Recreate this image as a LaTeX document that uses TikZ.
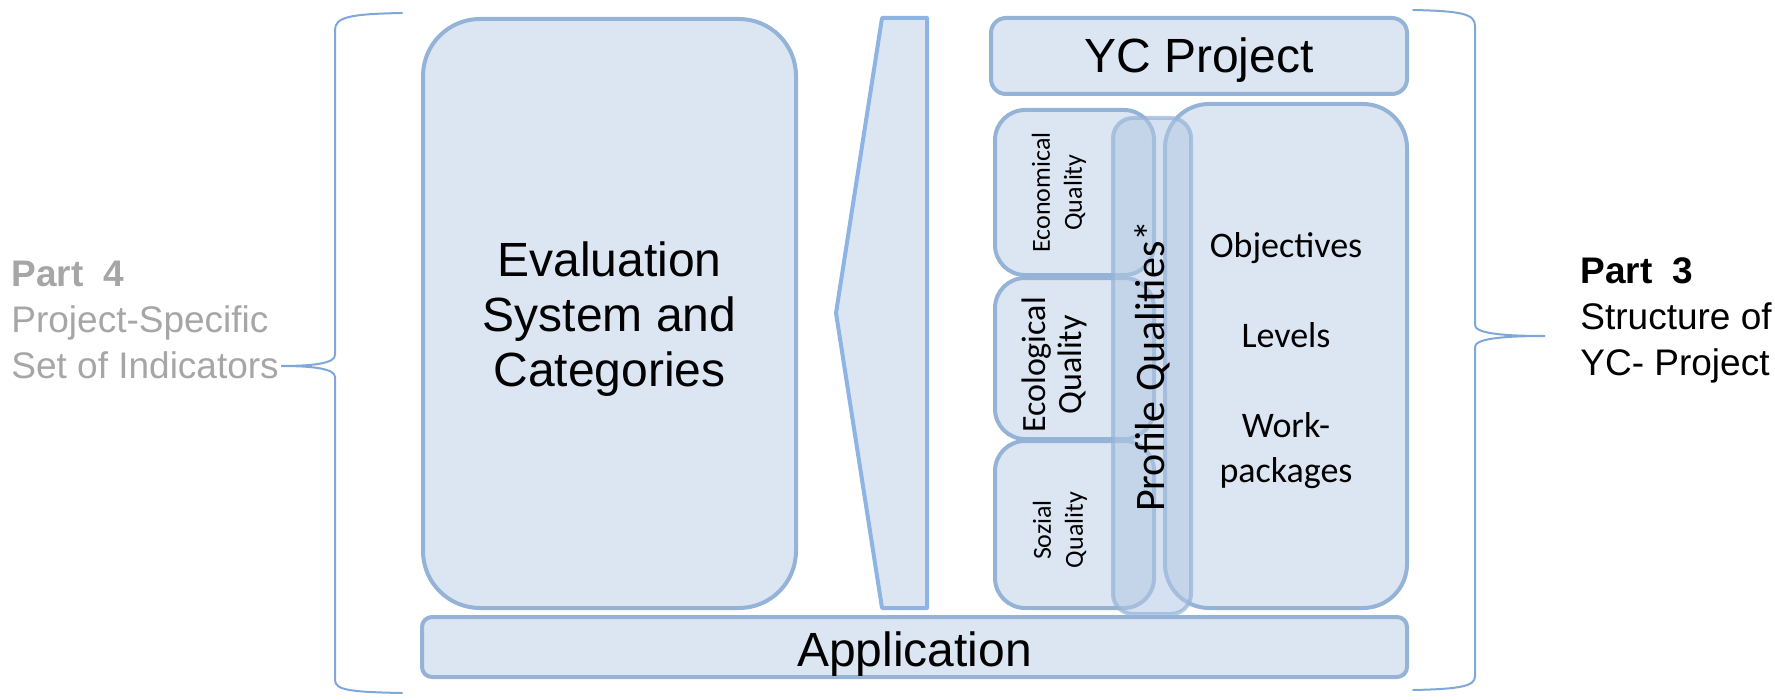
\documentclass[tikz,border=0pt]{standalone}
\usepackage{fontspec}
\setmainfont{Liberation Sans}
\newfontfamily\calibri{Carlito}
\usepackage{tikz}
\usetikzlibrary{positioning}
\definecolor{boxfill}{HTML}{DCE6F2}
\definecolor{boxline}{HTML}{95B3D7}
\definecolor{arrowline}{HTML}{8DB4E2}
\definecolor{braceline}{HTML}{7FA7D9}
\definecolor{profilefill}{HTML}{B3C8E3}
\definecolor{parttext}{HTML}{A6A6A6}

\begin{document}
\begin{tikzpicture}[x=0.5pt,y=-0.5pt,
  box/.style={draw=boxline, fill=boxfill, line width=2pt, inner sep=0pt, outer sep=0pt},
  quality/.style={box, minimum width=79.5pt, rounded corners=15pt},
  qlabel/.style={rotate=90, align=center, inner sep=0pt},
  bigtext/.style={font=\fontsize{24}{27.5}\selectfont, align=center, inner sep=0pt},
  brace/.style={draw=braceline, line width=1pt, line cap=round}]
\useasboundingbox (0,0) rectangle (1775,700);

% left column
\node (evalbox) at (609.5,313.5) [box, minimum width=186.5pt, minimum height=294.5pt, rounded corners=28.5pt] {};
\node (evaltxt) at ([yshift=-3pt]evalbox.center) [bigtext] {Evaluation\\System and\\Categories};
\draw[draw=arrowline, fill=boxfill, line width=2pt, line join=round] (882,18) -- (927,18) -- (927,608) -- (882,608) -- (836,313) -- cycle;

% right column
\node (ycproj) at (1199,56) [box, minimum width=208pt, minimum height=38pt, rounded corners=7.5pt] {};
\node (yctxt) at ([yshift=-2.25pt]ycproj.center) [bigtext] {YC Project};
\node (econ) at (1074.5,192.5) [quality, minimum height=82.5pt] {};
\node (ecol) [quality, minimum height=80.5pt, below=1.5pt of econ] {};
\node (sozial) [quality, minimum height=83.5pt, below=1pt of ecol] {};
\node (econlbl) at ([xshift=-7.75pt]econ.center) [qlabel, font=\calibri\fontsize{13}{16}\selectfont] {Economical\\Quality};
\node (ecollbl) at ([xshift=-10pt,yshift=-3.25pt]ecol.center) [qlabel, font=\calibri\fontsize{17}{18}\selectfont] {Ecological\\Quality};
\node (soziallbl) at ([xshift=-7.25pt,yshift=-2.75pt]sozial.center) [qlabel, font=\calibri\fontsize{13}{16}\selectfont] {Sozial\\Quality};
\node (goals) at (1286,356) [box, minimum width=121pt, minimum height=252pt, rounded corners=22pt] {};
\node (goalstxt) at ([yshift=-2.25pt]goals.center) [align=center, inner sep=0pt, font=\calibri\fontsize{18}{22.5}\selectfont] {Objectives\\[22.5pt]Levels\\[22.5pt]Work-\\packages};
\node (profile) at (1152,366) [box, rotate=90, minimum width=248pt, minimum height=39pt, rounded corners=10pt, fill=profilefill, fill opacity=0.55, draw opacity=0.7, text opacity=1, font=\calibri\fontsize{21}{25}\selectfont] {Profile Qualities*};

% bottom bar
\node (appl) at (914.5,647) [box, minimum width=492.5pt, minimum height=30pt, rounded corners=5pt] {};
\node (appltxt) at ([yshift=-3.5pt]appl.center) [bigtext] {Application};

% braces and part labels
\node (part4) at (11,320) [anchor=west, align=left, inner sep=0pt, text=parttext, font=\fontsize{18.5}{23}\selectfont] {\textbf{Part\ \ 4}\\Project-Specific\\Set of Indicators};
\node (part3) at (1580,320) [anchor=west, align=left, inner sep=0pt, font=\fontsize{18.5}{23}\selectfont] {\textbf{Part\ \ 3}\\Structure of\\YC- Project};
\coordinate (tip4) at (281,366);
\coordinate (tip3) at (1545,336);
\draw[brace] (402,13) .. controls (350,14) and (335,17) .. (335,30) -- (335,355) .. controls (335,363) and (315,366) .. (tip4) .. controls (315,366) and (335,369) .. (335,377) -- (335,680) .. controls (335,690) and (350,692) .. (402,693);
\draw[brace] (1413,10) .. controls (1462,11) and (1475,14) .. (1475,26) -- (1475,325) .. controls (1475,333) and (1500,336) .. (tip3) .. controls (1500,336) and (1475,339) .. (1475,347) -- (1475,676) .. controls (1475,686) and (1462,689) .. (1413,690);
\end{tikzpicture}
\end{document}
